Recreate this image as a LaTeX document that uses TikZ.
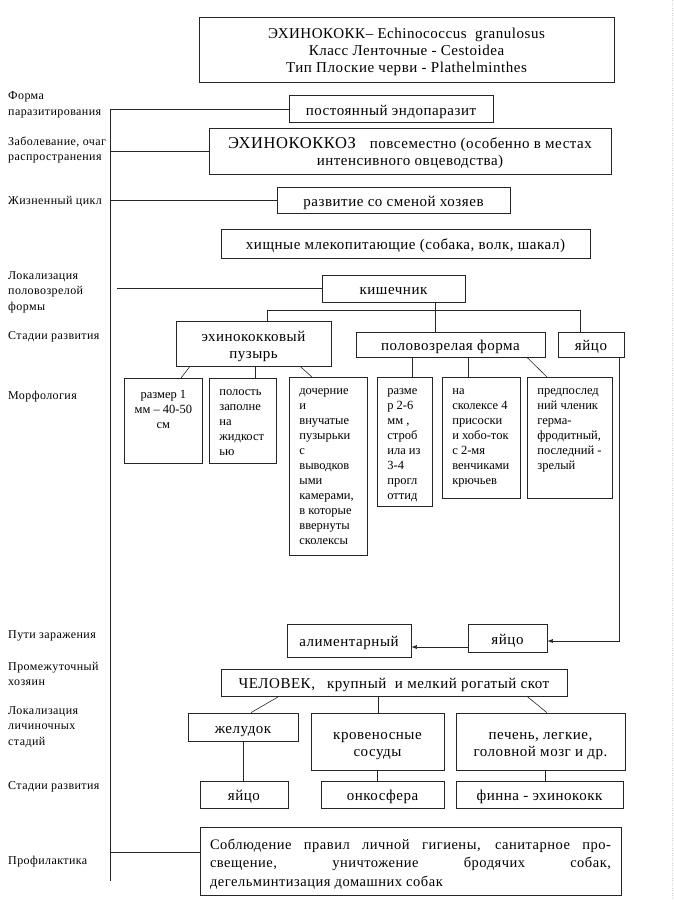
\documentclass[tikz,border=0pt]{standalone}
\usepackage{fontspec}
\setmainfont{Liberation Serif}
\newfontfamily\boxfont{Liberation Serif}[LetterSpace=3.5]
\usetikzlibrary{arrows.meta}
\newcommand{\bxf}{\boxfont\fontsize{15}{17}\selectfont}
\newcommand{\lbf}{\boxfont\fontsize{12}{15.5}\selectfont}
\newcommand{\mrf}{\fontsize{12.5}{15}\selectfont}
\newcommand{\dn}{\rule[-5pt]{0pt}{22pt}}
\newcommand{\dd}{\rule[-5pt]{0pt}{5pt}}
\hyphenpenalty=10000
\begin{document}
\begin{tikzpicture}[x=1pt,y=-1pt,
  box/.style={draw=black!85, line width=0.7pt, inner sep=0pt, align=center, font=\bxf},
  lbl/.style={anchor=west, align=left, inner sep=0pt, font=\lbf},
  ln/.style={line width=0.6pt, draw=black!85},
  arr/.style={ln, -{Latex[length=5.5pt,width=4pt]}},
  mbox/.style={draw=black!85, line width=0.7pt, inner sep=0pt, anchor=north west, font=\mrf}]
\useasboundingbox (0,0) rectangle (674,900);
\draw[gray!35, dotted, line width=0.5pt] (672,0) -- (672,900);

% ---- left labels
\node[lbl] (l1) at (8,105) {Форма\\паразитирования};
\node[lbl] (l2) at (8,150) {Заболевание, очаг\\распространения};
\node[lbl] (l3) at (8,202) {Жизненный цикл};
\node[lbl] (l4) at (8,292) {Локализация\\половозрелой\\формы};
\node[lbl] (l5) at (8,337) {Стадии развития};
\node[lbl] (l6) at (8,397) {Морфология};
\node[lbl] (l7) at (8,636) {Пути заражения};
\node[lbl] (l8) at (8,674) {Промежуточный\\хозяин};
\node[lbl] (l9) at (8,727) {Локализация\\личиночных\\стадий};
\node[lbl] (l10) at (8,787) {Стадии развития};
\node[lbl] (l11) at (8,862) {Профилактика};

% ---- main boxes
\node[box, minimum width=415pt, minimum height=65pt] (title) at (406.5,49.5)
  {\dn ЭХИНОКОКК– Echinococcus\ \ granulosus\\Класс Ленточные - Cestoidea\\Тип Плоские черви - Plathelminthes\dd};
\node[box, minimum width=204pt, minimum height=27pt] (endo) at (391,109) {\dn постоянный эндопаразит};
\node[box, minimum width=402pt, minimum height=46pt] (disease) at (410,151)
  {\dn{\fontsize{16.5}{17}\selectfont ЭХИНОКОККОЗ}\hspace{14pt}повсеместно (особенно в местах\\интенсивного овцеводства)\dd};
\node[box, minimum width=233pt, minimum height=26pt] (cycle) at (393.5,200) {\dn развитие со сменой хозяев};
\node[box, minimum width=369pt, minimum height=29pt] (host) at (405.5,243.5) {\dn хищные млекопитающие (собака, волк, шакал)};
\node[box, minimum width=143pt, minimum height=27pt] (intest) at (393.5,288.5) {\dn кишечник};
\node[box, minimum width=155pt, minimum height=45pt] (bubble) at (253.5,343.5) {\dn эхинококковый\\пузырь\dd};
\node[box, minimum width=189pt, minimum height=25pt] (adult) at (450.5,344.5) {\dn половозрелая форма};
\node[box, minimum width=66pt, minimum height=25pt] (egg) at (591,344.5) {\dn яйцо};

% ---- morphology boxes
\node[mbox] (m1) at (124,378) {\parbox[t][85pt][t]{78pt}{\centering\vspace*{12pt}размер 1\\мм – 40-50\\см}};
\node[mbox] (m2) at (209,378) {\parbox[t][85pt][t]{67pt}{\raggedright\leftskip=10pt\vspace*{11pt}полость\\заполне\\на\\жидкост\\ью}};
\node[mbox] (m3) at (289,377) {\parbox[t][178pt][t]{78pt}{\raggedright\leftskip=10pt\vspace*{11pt}дочерние\\и\\внучатые\\пузырьки\\с\\выводков\\ыми\\камерами,\\в которые\\ввернуты\\сколексы}};
\node[mbox] (m4) at (377,377) {\parbox[t][129pt][t]{55pt}{\raggedright\leftskip=10pt\vspace*{11pt}разме\\р 2-6\\мм ,\\строб\\ила из\\3-4\\прогл\\оттид}};
\node[mbox] (m5) at (442,377) {\parbox[t][121pt][t]{78pt}{\raggedright\leftskip=10pt\vspace*{11pt}на\\сколексе 4\\присоски\\и хобо-ток\\с 2-мя\\венчиками\\крючьев}};
\node[mbox] (m6) at (527,377) {\parbox[t][121pt][t]{85pt}{\raggedright\leftskip=10pt\vspace*{11pt}предпослед\\ний членик\\герма-\\фродитный,\\последний -\\зрелый}};

% ---- lower part
\node[box, minimum width=124pt, minimum height=33pt] (alim) at (349,640.5) {\dn алиментарный};
\node[box, minimum width=79pt, minimum height=28pt] (egg2) at (507.5,638) {\dn яйцо};
\node[box, minimum width=346pt, minimum height=27pt] (human) at (394,682.5) {\dn ЧЕЛОВЕК,\hspace{12pt}крупный\ \ и мелкий рогатый скот};
\node[box, minimum width=110pt, minimum height=28pt] (stom) at (243,727) {\dn желудок};
\node[box, minimum width=133pt, minimum height=57pt] (vessel) at (377.5,741.5) {\dn кровеносные\\сосуды\dd};
\node[box, minimum width=169pt, minimum height=57pt] (liver) at (540.5,741.5) {\dn печень, легкие,\\головной мозг и др.\dd};
\node[box, minimum width=88pt, minimum height=27pt] (egg3) at (244,794.5) {\dn яйцо};
\node[box, minimum width=123pt, minimum height=27pt] (onco) at (382.5,794.5) {\dn онкосфера};
\node[box, minimum width=167pt, minimum height=27pt] (finna) at (539.5,794.5) {\dn финна - эхинококк};
\node[box, minimum width=421pt, minimum height=68pt] (prof) at (410.5,861)
  {\parbox[c][68pt][t]{401pt}{\boxfont\fontsize{14.5}{18.5}\selectfont\vspace*{12pt}\makebox[401pt][s]{Соблюдение правил личной гигиены, санитарное про-}\\\makebox[401pt][s]{свещение, уничтожение бродячих собак,}\\дегельминтизация домашних собак}};

% ---- spine and side connectors
\coordinate (sTop) at (110,109);
\coordinate (sBot) at (110,881);
\coordinate (locEnd) at (117,288.5);
\coordinate (profY) at (110,852);
\draw[ln] (sTop) -- (sBot);
\draw[ln] (sTop) -- (endo.west);
\draw[ln] (disease.west -| sTop) -- (disease.west);
\draw[ln] (cycle.west -| sTop) -- (cycle.west);
\draw[ln] (locEnd) -- (intest.west);
\draw[ln] (profY) -- (profY -| prof.west);

% ---- tree from intestine
\coordinate (bL) at (267,310);
\coordinate (bM) at (435,310);
\coordinate (bR) at (580,310);
\draw[ln] (bubble.north -| bL) -- (bL) -- (bR) -- (egg.north -| bR);
\draw[ln] (intest.south -| bM) -- (adult.north -| bM);

% ---- morphology connectors
\draw[ln] (bubble.south -| 190,0) -- (m1.north -| 181,0);
\draw[ln] (bubble.south -| 255,0) -- (m2.north -| 255,0);
\draw[ln] (bubble.south -| 300,0) -- (m3.north -| 312,0);
\draw[ln] (adult.south -| 412,0) -- (m4.north -| 412,0);
\draw[ln] (adult.south -| 468,0) -- (m5.north -| 468,0);
\draw[ln] (adult.south -| 527,0) -- (m6.north -| 547,0);

% ---- infection path
\coordinate (eggCorner) at (619,641);
\draw[arr] (egg.south -| eggCorner) -- (eggCorner) -- (egg2.east |- eggCorner);
\draw[arr] (egg2.west |- 0,647) -- (alim.east |- 0,647);

% ---- intermediate host
\draw[ln] (human.south -| 279,0) -- (stom.north -| 251,0);
\draw[ln] (human.south -| 378,0) -- (vessel.north -| 378,0);
\draw[ln] (human.south -| 527,0) -- (liver.north -| 547,0);
\draw[ln] (stom.south -| 243,0) -- (egg3.north -| 243,0);
\draw[ln] (vessel.south -| 377,0) -- (onco.north -| 377,0);
\draw[ln] (liver.south -| 545,0) -- (finna.north -| 545,0);
\end{tikzpicture}
\end{document}
